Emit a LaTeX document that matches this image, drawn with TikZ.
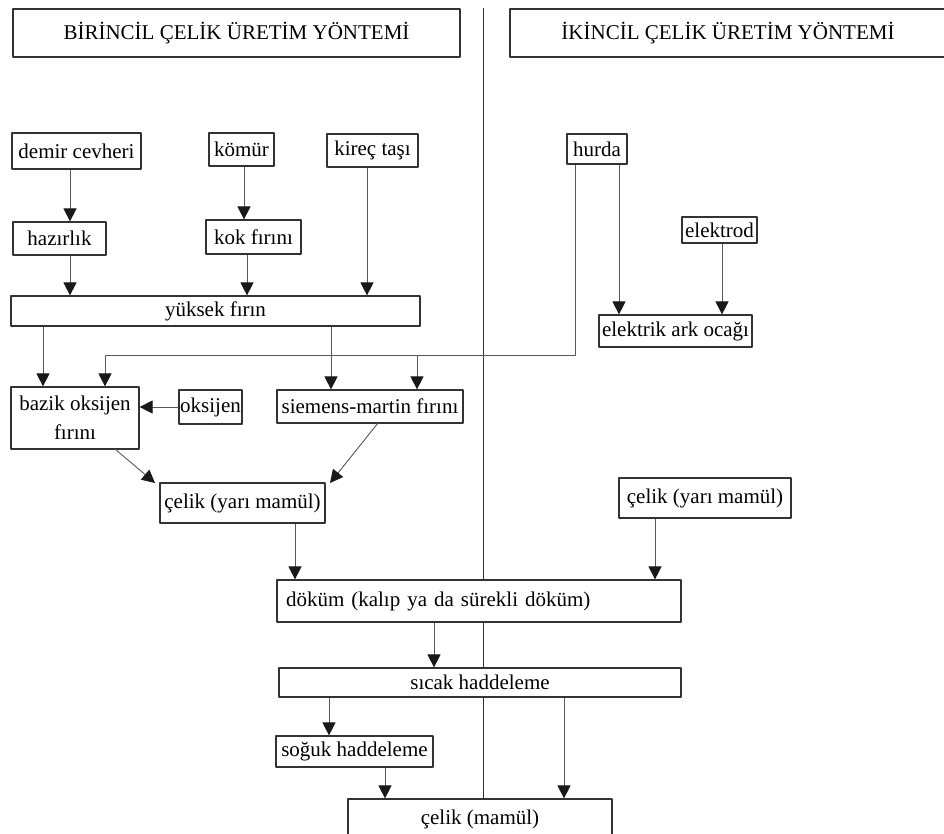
\documentclass[tikz,border=0pt]{standalone}
\usepackage{fontspec}
\setmainfont{Liberation Serif}
\usetikzlibrary{arrows.meta}
\tikzset{
	kutu/.style={draw=black!80, fill=white, line width=1.2pt, inner sep=0pt, align=center, font=\fontsize{21}{29}\selectfont},
	ok/.style={->, draw=black!65, line width=0.9pt}
}
\begin{document}
\begin{tikzpicture}[x=1pt, y=-1pt, line join=round, >={Triangle[width=13pt,length=13pt,color=black!90]}]
	\useasboundingbox (0,0) rectangle (944,833);
	% ayirici cizgi
	\draw[line width=1pt, black!80] (483,8) -- (483,833);
	% basliklar
	\node[kutu, minimum width=447pt, minimum height=48pt] (bas1) at (236.5,33) {BİRİNCİL ÇELİK ÜRETİM YÖNTEMİ};
	\node[kutu, minimum width=436pt, minimum height=48pt] (bas2) at (728,33) {İKİNCİL ÇELİK ÜRETİM YÖNTEMİ};
	% birincil
	\node[kutu, minimum width=129pt, minimum height=36pt] (demir) at (76.5,151) {demir cevheri};
	\node[kutu, minimum width=65pt, minimum height=33pt] (komur) at (241.5,149.5) {kömür};
	\node[kutu, minimum width=91pt, minimum height=33pt] (kirec) at (372.5,150.5) {kireç taşı};
	\node[kutu, minimum width=93pt, minimum height=33pt] (hazirlik) at (59.5,238.5) {hazırlık};
	\node[kutu, minimum width=95pt, minimum height=34pt] (kok) at (253.5,237) {kok fırını};
	\node[kutu, minimum width=409pt, minimum height=30pt] (yuksek) at (215.5,311) {yüksek fırın};
	\node[kutu, minimum width=128pt, minimum height=62pt] (bazik) at (75,418) {bazik oksijen\\fırını};
	\node[kutu, minimum width=63pt, minimum height=34pt] (oksijen) at (210.5,407) {oksijen};
	\node[kutu, minimum width=186pt, minimum height=33pt] (siemens) at (370,406.5) {siemens-martin fırını};
	\node[kutu, minimum width=165pt, minimum height=40pt] (celik1) at (242.5,503) {çelik (yarı mamül)};
	% ikincil
	\node[kutu, minimum width=60pt, minimum height=30pt] (hurda) at (597,149) {hurda};
	\node[kutu, minimum width=75pt, minimum height=26pt] (elektrod) at (719.5,230) {elektrod};
	\node[kutu, minimum width=153pt, minimum height=32pt] (ark) at (675.5,331) {elektrik ark ocağı};
	\node[kutu, minimum width=172pt, minimum height=40pt] (celik2) at (705,498) {çelik (yarı mamül)};
	% ortak
	\node[kutu, text width=386pt, inner xsep=9pt, align=left, minimum height=42pt] (dokum) at (479,601) {döküm (kalıp ya da sürekli döküm)};
	\node[kutu, minimum width=402pt, minimum height=29pt] (sicak) at (480,682.5) {sıcak haddeleme};
	\node[kutu, minimum width=157pt, minimum height=31pt] (soguk) at (354.5,751.5) {soğuk haddeleme};
	\node[kutu, minimum width=264pt, minimum height=40pt] (mamul) at (480,819) {çelik (mamül)};
	% dik oklar
	\foreach \a/\b/\x in {demir/hazirlik/70, hazirlik/yuksek/70, komur/kok/244, kok/yuksek/247,
		kirec/yuksek/367, yuksek/bazik/43, yuksek/siemens/331, hurda/ark/619, elektrod/ark/722,
		celik1/dokum/295, celik2/dokum/655, dokum/sicak/434, sicak/soguk/329, soguk/mamul/385, sicak/mamul/564}
	\draw[ok] (\a.south -| \x,0) -- (\b.north -| \x,0);
	% hurda hatti
	\coordinate (kose) at (575,355);
	\coordinate (kol) at (417,355);
	\draw[ok] (hurda.south -| kose) -- (kose) -- (105,355) -- (bazik.north -| 105,0);
	\draw[ok] (kol) -- (siemens.north -| kol);
	\draw[ok] (oksijen.west) -- (bazik.east |- oksijen.west);
	\draw[ok] (115,449) -- (155,483);
	\draw[ok] (378,423) -- (330,483);
\end{tikzpicture}
\end{document}
